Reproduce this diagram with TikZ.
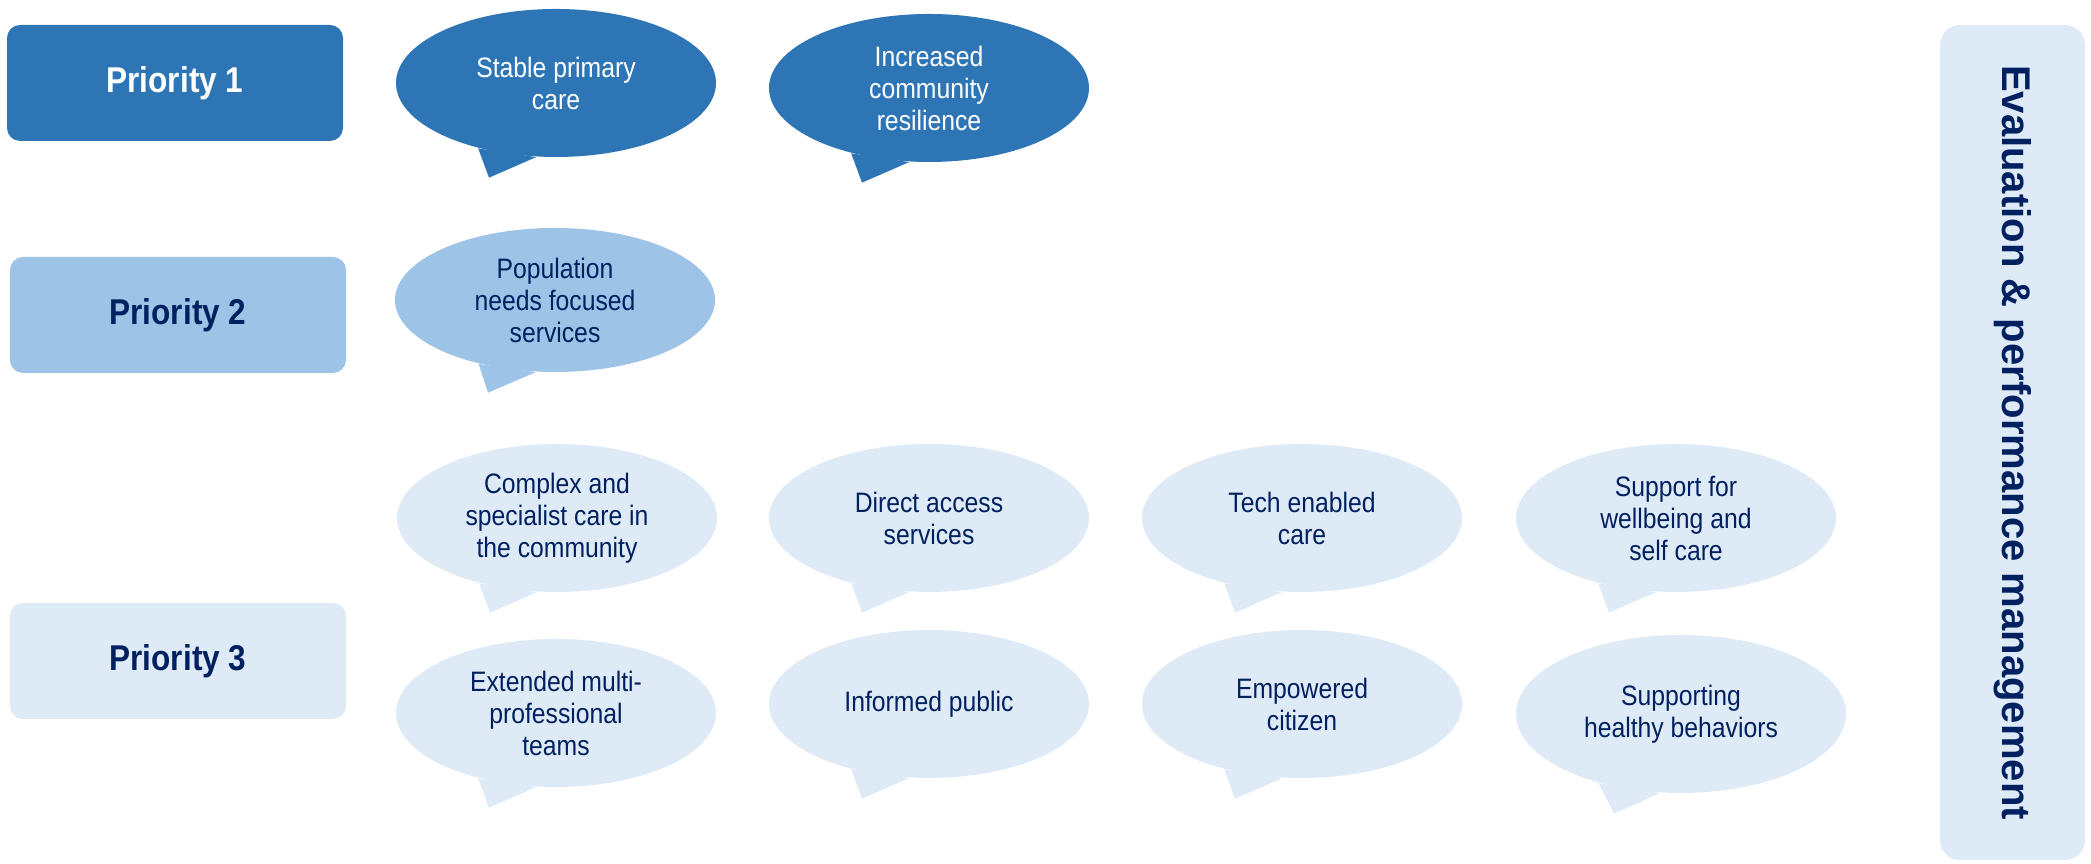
\documentclass[tikz,border=0pt]{standalone}
\usepackage{fontspec}
\setmainfont{Liberation Sans}[FakeStretch=0.88]
\newfontfamily\evalfont{Liberation Sans}
\usetikzlibrary{shapes.geometric}

\definecolor{prioone}{HTML}{2E75B6}
\definecolor{priotwo}{HTML}{9DC3E6}
\definecolor{priothree}{HTML}{DEEBF7}
\definecolor{navytext}{HTML}{002060}

\tikzset{
  prio/.style={rounded corners=0.13cm, minimum width=3.36cm, minimum height=1.16cm,
    font=\fontsize{10.2}{12}\selectfont\bfseries},
  bubble/.style={ellipse, minimum width=3.2cm, minimum height=1.48cm, inner sep=0pt,
    align=center, font=\fontsize{8}{9.1}\selectfont},
  evalbox/.style={rounded corners=0.2cm, rotate=-90, minimum width=8.35cm,
    minimum height=1.45cm, fill=priothree, text=navytext,
    font=\evalfont\fontsize{11.4}{13}\selectfont\bfseries}
}

\begin{document}
\begin{tikzpicture}
\useasboundingbox (0,0) rectangle (20.91,8.64);

% priorities
\node[prio, fill=prioone, text=white] (prioa) at (1.75,7.81) {Priority 1};
\node[prio, fill=priotwo, text=navytext] (priob) at (1.78,5.49) {Priority 2};
\node[prio, fill=priothree, text=navytext] (prioc) at (1.78,2.03) {Priority 3};

% outcomes
\node[bubble, fill=prioone, text=white] (stable) at (5.56,7.81) {Stable primary\\care};
\node[bubble, fill=prioone, text=white] (resil) at (9.29,7.76) {Increased\\community\\resilience};
\node[bubble, fill=priotwo, text=navytext, minimum height=1.44cm] (popul) at (5.55,5.64) {Population\\needs focused\\services};
\node[bubble, fill=priothree, text=navytext] (complex) at (5.57,3.46) {Complex and\\specialist care in\\the community};
\node[bubble, fill=priothree, text=navytext] (direct) at (9.29,3.46) {Direct access\\services};
\node[bubble, fill=priothree, text=navytext] (tech) at (13.02,3.46) {Tech enabled\\care};
\node[bubble, fill=priothree, text=navytext] (wellb) at (16.76,3.46) {Support for\\wellbeing and\\self care};
\node[bubble, fill=priothree, text=navytext] (teams) at (5.56,1.51) {Extended multi-\\professional\\teams};
\node[bubble, fill=priothree, text=navytext] (public) at (9.29,1.60) {Informed public};
\node[bubble, fill=priothree, text=navytext] (citizen) at (13.02,1.60) {Empowered\\citizen};
\node[bubble, fill=priothree, text=navytext, minimum width=3.3cm, minimum height=1.58cm] (health) at (16.81,1.50) {Supporting\\healthy behaviors};

% tails
\foreach \b/\c in {stable/prioone, resil/prioone, popul/priotwo, complex/priothree,
    direct/priothree, tech/priothree, wellb/priothree, teams/priothree,
    public/priothree, citizen/priothree, health/priothree}
  \fill[\c] (\b.220) -- ([shift={(-0.67,-0.2)}]\b.south) -- (\b.255) -- cycle;

% side bar
\node[evalbox] (eval) at (20.125,4.215) {Evaluation \& performance management};
\end{tikzpicture}
\end{document}
